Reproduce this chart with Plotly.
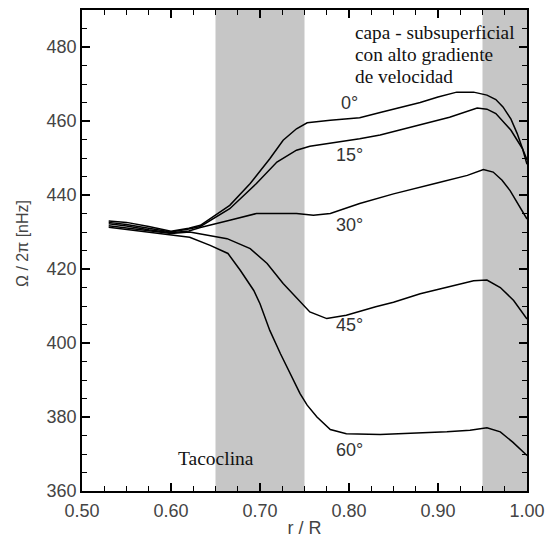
import plotly.graph_objects as go

r_0 = [0.53, 0.55, 0.575, 0.60, 0.62, 0.633, 0.666, 0.689, 0.711, 0.726, 0.741, 0.753, 0.779, 0.812, 0.835, 0.857, 0.88, 0.90, 0.921, 0.94, 0.955, 0.965, 0.973, 0.982, 0.989, 0.995, 1.0]
v_0 = [433.0, 432.6, 431.5, 430.2, 431.0, 431.8, 437.2, 443.1, 449.8, 454.8, 457.9, 459.5, 460.2, 460.9, 462.3, 463.6, 465.0, 466.5, 467.8, 467.8, 467.0, 465.8, 463.8, 460.5, 456.6, 452.5, 448.3]

r_15 = [0.53, 0.55, 0.575, 0.60, 0.62, 0.633, 0.666, 0.696, 0.719, 0.741, 0.756, 0.79, 0.812, 0.835, 0.857, 0.88, 0.913, 0.944, 0.955, 0.965, 0.973, 0.982, 0.989, 0.995, 1.0]
v_15 = [432.6, 432.0, 431.0, 430.0, 430.8, 431.5, 436.3, 443.1, 448.9, 452.1, 453.2, 454.3, 455.2, 456.2, 457.5, 459.0, 461.0, 463.5, 463.2, 462.0, 460.0, 457.5, 454.8, 452.5, 449.5]

r_30 = [0.53, 0.55, 0.575, 0.60, 0.62, 0.633, 0.666, 0.696, 0.741, 0.76, 0.779, 0.812, 0.85, 0.876, 0.90, 0.933, 0.951, 0.962, 0.972, 0.981, 0.99, 1.0]
v_30 = [432.2, 431.6, 430.6, 429.8, 430.3, 431.2, 433.2, 435.0, 435.0, 434.5, 435.0, 437.7, 440.3, 441.8, 443.3, 445.3, 446.9, 446.2, 444.0, 441.2, 437.5, 433.5]

r_45 = [0.53, 0.55, 0.575, 0.60, 0.621, 0.663, 0.689, 0.708, 0.726, 0.745, 0.756, 0.775, 0.797, 0.83, 0.85, 0.88, 0.90, 0.94, 0.955, 0.97, 0.985, 1.0]
v_45 = [431.7, 431.1, 430.3, 429.6, 430.0, 428.2, 425.5, 421.5, 416.1, 411.1, 408.4, 406.6, 407.5, 409.8, 411.0, 413.3, 414.5, 416.8, 417.0, 415.0, 411.5, 406.5]

r_60 = [0.53, 0.55, 0.575, 0.60, 0.621, 0.644, 0.664, 0.678, 0.693, 0.70, 0.711, 0.723, 0.734, 0.745, 0.753, 0.764, 0.779, 0.797, 0.835, 0.872, 0.91, 0.936, 0.955, 0.97, 0.984, 1.0]
v_60 = [431.3, 430.7, 430.0, 429.4, 428.6, 426.4, 424.2, 419.6, 414.2, 410.6, 403.4, 397.1, 391.7, 386.3, 383.2, 380.0, 376.6, 375.5, 375.3, 375.6, 376.0, 376.4, 377.1, 376.0, 373.2, 369.6]

series = [("0°", r_0, v_0), ("15°", r_15, v_15), ("30°", r_30, v_30), ("45°", r_45, v_45), ("60°", r_60, v_60)]

label_text = ["0°", "15°", "30°", "45°", "60°"]
label_x = [0.80, 0.80, 0.80, 0.80, 0.80]
label_y = [465.0, 450.7, 431.8, 404.8, 371.0]

caption_lines = ["capa - subsuperficial", "con alto gradiente", "de velocidad"]
caption_y = [484.0, 478.0, 472.0]
caption_x = 0.8056

bands = [(0.65, 0.75), (0.95, 1.0)]

x_ticks = [0.5, 0.6, 0.7, 0.8, 0.9, 1.0]
x_ticktext = ["0.50", "0.60", "0.70", "0.80", "0.90", "1.00"]
y_ticks = [360, 380, 400, 420, 440, 460, 480]

SANS = "Liberation Sans"
SERIF = "Liberation Serif"

fig = go.Figure()

for name, r, v in series:
    fig.add_trace(go.Scatter(x=r, y=v, mode="lines", name=name,
                             line=dict(color="black", width=1.5), showlegend=False))

for x0, x1 in bands:
    fig.add_shape(type="rect", xref="x", yref="paper", x0=x0, x1=x1, y0=0, y1=1,
                  fillcolor="#c6c6c6", line=dict(width=0), layer="below")

for t, x, y in zip(label_text, label_x, label_y):
    fig.add_annotation(x=x, y=y, text=t, showarrow=False, xanchor="center", yanchor="middle",
                       font=dict(family=SANS, size=18, color="#333333"))

for t, y in zip(caption_lines, caption_y):
    fig.add_annotation(x=caption_x, y=y, xref="x", yref="y", xanchor="left", yanchor="middle",
                       text=t, showarrow=False, borderpad=0,
                       font=dict(family=SERIF, size=19.3, color="#111111"))

fig.add_annotation(x=0.6506, y=368.8, text="Tacoclina", showarrow=False, xanchor="center", yanchor="middle",
                   font=dict(family=SERIF, size=19.5, color="#111111"))

fig.add_annotation(x=-0.1348, y=0.5135, xref="paper", yref="paper", text="Ω / 2π [nHz]", textangle=-90,
                   showarrow=False, xanchor="center", yanchor="middle",
                   font=dict(family=SANS, size=16, color="#444444"))

axis_common = dict(showgrid=False, zeroline=False, showline=True, linecolor="black", linewidth=1.5,
                   mirror="allticks", ticks="inside", tickcolor="black", ticklen=8, tickwidth=1.5,
                   automargin=False,
                   tickfont=dict(family=SANS, size=18, color="#444444"))

fig.update_xaxes(range=[0.5, 1.0], tickvals=x_ticks, ticktext=x_ticktext, ticklabelstandoff=3,
                 minor=dict(dtick=0.025, ticks="inside", ticklen=5, tickcolor="black", tickwidth=1.2),
                 title=dict(text="r / R", font=dict(family=SANS, size=18, color="#444444"), standoff=5),
                 **axis_common)
fig.update_yaxes(range=[360, 490], tickvals=y_ticks,
                 minor=dict(dtick=5, ticks="inside", ticklen=5, tickcolor="black", tickwidth=1.2),
                 **axis_common)

fig.update_layout(width=546, height=538, margin=dict(l=82, r=19, t=10, b=47),
                  paper_bgcolor="white", plot_bgcolor="white")

fig.write_html("out.html")
